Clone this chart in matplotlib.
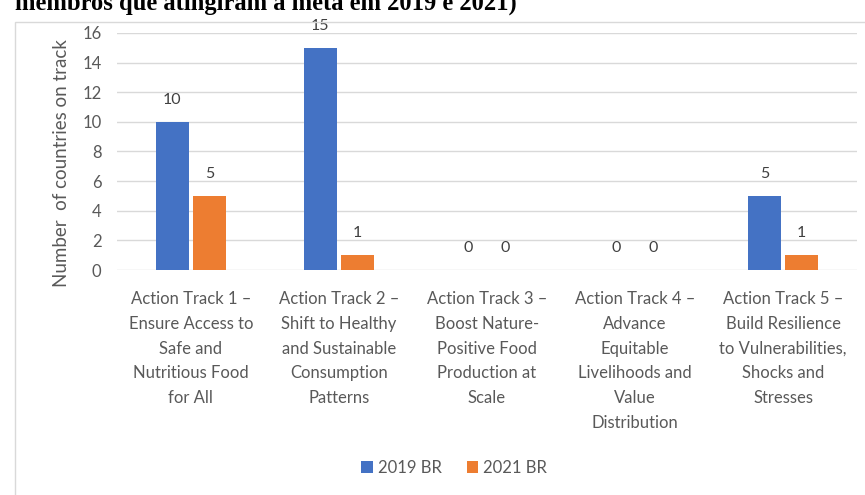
import matplotlib.pyplot as plt
from matplotlib.patches import Rectangle
import numpy as np

categories = [
    "Action Track 1 –\nEnsure Access to\nSafe and\nNutritious Food\nfor All",
    "Action Track 2 –\nShift to Healthy\nand Sustainable\nConsumption\nPatterns",
    "Action Track 3 –\nBoost Nature-\nPositive Food\nProduction at\nScale",
    "Action Track 4 –\nAdvance\nEquitable\nLivelihoods and\nValue\nDistribution",
    "Action Track 5 –\nBuild Resilience\nto Vulnerabilities,\nShocks and\nStresses",
]
series_names = ["2019 BR", "2021 BR"]
vals_2019 = [10, 15, 0, 0, 5]
vals_2021 = [5, 1, 0, 0, 1]
colors = ["#4472C4", "#ED7D31"]
txt = "#595959"

plt.rcParams['font.family'] = ['Lato', 'DejaVu Sans']

fig = plt.figure(figsize=(8.65, 4.95), dpi=100)
ax = fig.add_axes([0.135, 0.4545, 0.856, 0.479])

# chart frame (light grey border, cut by the page edge)
fig.patches.append(Rectangle((15 / 865, -0.01), 1.0, 1 - 22 / 495 + 0.01,
                             transform=fig.transFigure, fill=False,
                             edgecolor="#D9D9D9", linewidth=1))

# cut-off caption at the very top (cropped in the original too)
fig.text(15 / 865, 1 - 10 / 495, "membros que atingiram a meta em 2019 e 2021)",
         family="Liberation Serif", weight="bold", fontsize=17.7, va="baseline",
         ha="left", color="black")

x = np.arange(len(categories))
w = 0.22
gap = 0.03
b1 = ax.bar(x - (w + gap) / 2, vals_2019, w, color=colors[0], label=series_names[0], zorder=3)
b2 = ax.bar(x + (w + gap) / 2, vals_2021, w, color=colors[1], label=series_names[1], zorder=3)

for bars in (b1, b2):
    for r in bars:
        ax.annotate(str(int(r.get_height())), (r.get_x() + r.get_width() / 2, r.get_height()),
                    xytext=(0, 16), textcoords="offset points", ha="center", va="center",
                    fontsize=11.5, color="#404040")

ax.set_xlim(-0.5, len(categories) - 0.5)
ax.set_ylim(0, 16)
ax.set_yticks(range(0, 17, 2))
ax.yaxis.grid(True, color="#D9D9D9", linewidth=1, zorder=0)
for s in ax.spines.values():
    s.set_visible(False)
ax.tick_params(axis="both", length=0, colors=txt, labelsize=12)
ax.tick_params(axis="y", pad=11)
ax.tick_params(axis="x", pad=15)
ax.set_xticks(x)
ax.set_xticklabels(categories, linespacing=1.68, fontsize=12, color=txt)
ax.set_ylabel("Number  of countries on track", fontsize=13.5, color=txt)
ax.yaxis.set_label_coords(-0.063, 0.45)

fig.legend(handles=[b1, b2], labels=series_names, loc="center", bbox_to_anchor=(0.525, 1 - 468 / 495),
           ncol=2, frameon=False, fontsize=12, labelcolor=txt, handlelength=0.7,
           handleheight=0.7, handletextpad=0.3, columnspacing=1.5)

fig.savefig("out.png", dpi=100)
